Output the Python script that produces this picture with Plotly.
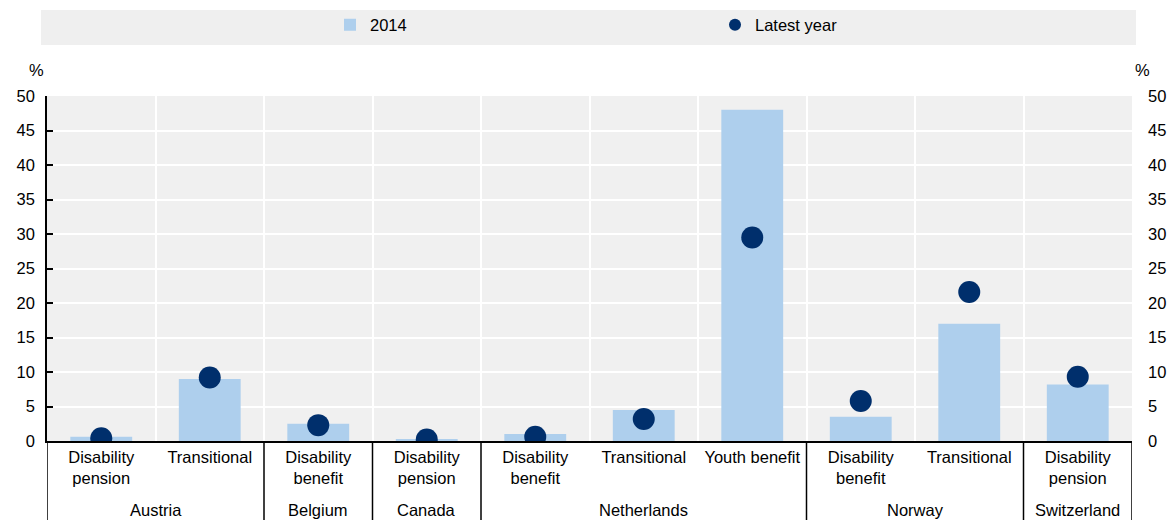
import plotly.graph_objects as go

countries = ["Austria", "Austria", "Belgium", "Canada", "Netherlands", "Netherlands",
             "Netherlands", "Norway", "Norway", "Switzerland"]
benefits = ["Disability<br>pension", "Transitional", "Disability<br>benefit", "Disability<br>pension",
            "Disability<br>benefit", "Transitional", "Youth benefit", "Disability<br>benefit",
            "Transitional", "Disability<br>pension"]
values_2014 = [0.6, 9.0, 2.5, 0.3, 1.0, 4.5, 48.0, 3.5, 17.0, 8.2]
values_latest = [0.4, 9.2, 2.3, 0.2, 0.6, 3.2, 29.5, 5.8, 21.6, 9.3]
y_ticks = [0, 5, 10, 15, 20, 25, 30, 35, 40, 45, 50]

idx = list(range(len(benefits)))
FONT = "Liberation Sans, Arial, sans-serif"
FS = 16.5

fig = go.Figure()
fig.add_trace(go.Bar(x=idx, y=values_2014, name="2014", marker_color="#AECFED",
                     marker_line_width=0, width=0.57))
fig.add_trace(go.Scatter(x=idx, y=values_latest, name="Latest year", mode="markers",
                         marker=dict(color="#002F6C", size=22)))
# invisible trace for right axis
fig.add_trace(go.Scatter(x=[idx[0]], y=[0], yaxis="y2", showlegend=False,
                         mode="markers", marker=dict(opacity=0), hoverinfo="skip"))

# groups
groups = []
for i, c in enumerate(countries):
    if not groups or groups[-1][0] != c:
        groups.append([c, i, i])
    else:
        groups[-1][2] = i

plot_h = 345.0
plot_w = 1085.0
shapes = []
# legend background
shapes.append(dict(type="rect", xref="paper", yref="paper", x0=-6 / plot_w, x1=1 + 4 / plot_w,
                   y0=1 + 51 / plot_h, y1=1 + 86 / plot_h, fillcolor="#EFEFEF",
                   line_width=0, layer="below"))
# dividers below axis
bounds = [-0.5] + [g[2] + 0.5 for g in groups]
for b in bounds:
    shapes.append(dict(type="line", xref="x", yref="paper", x0=b, x1=b, y0=0,
                       y1=-80 / plot_h, line=dict(color="black", width=1.5)))

annotations = []
for c, a, b in groups:
    annotations.append(dict(x=(a + b) / 2, y=-69 / plot_h, xref="x", yref="paper",
                            text=c, showarrow=False, yanchor="middle",
                            font=dict(size=FS, color="black", family=FONT)))
annotations.append(dict(x=-20 / plot_w, y=1 + 26 / plot_h, xref="paper", yref="paper", text="%",
                        showarrow=False, yanchor="middle",
                        font=dict(size=FS, color="black", family=FONT)))
annotations.append(dict(x=1 + 20 / plot_w, y=1 + 26 / plot_h, xref="paper", yref="paper", text="%",
                        showarrow=False, yanchor="middle",
                        font=dict(size=FS, color="black", family=FONT)))

fig.update_layout(
    width=1170, height=520,
    margin=dict(l=47, r=38, t=96, b=79, autoexpand=False),
    paper_bgcolor="white", plot_bgcolor="#F0F0F0",
    font=dict(family=FONT, size=FS, color="black"),
    showlegend=True,
    legend=dict(orientation="h", x=283 / plot_w, xanchor="left", y=1 + 71 / plot_h, yanchor="middle",
                bgcolor="rgba(0,0,0,0)", entrywidth=340, entrywidthmode="pixels",
                font=dict(size=FS, family=FONT), itemsizing="constant"),
    xaxis=dict(tickvals=idx, ticktext=benefits, range=[-0.5, len(idx) - 0.5],
               showgrid=False, zeroline=False, showline=True, linecolor="black", linewidth=1.5,
               ticks="", tickfont=dict(size=FS), automargin=False,
               minor=dict(tickvals=[i + 0.5 for i in idx[:-1]], showgrid=True,
                          gridcolor="white", gridwidth=1.5, ticks="")),
    yaxis=dict(range=[0, 50], tickvals=y_ticks, showgrid=True, gridcolor="white", gridwidth=1.5,
               zeroline=False, showline=True, linecolor="black", linewidth=1.5,
               ticks="inside", ticklen=6, tickcolor="black", tickwidth=1.5, automargin=False,
               ticklabelstandoff=7, tickfont=dict(size=FS)),
    yaxis2=dict(range=[0, 50], tickvals=y_ticks, overlaying="y", side="right", showgrid=False,
                zeroline=False, showline=False, ticks="", ticklabelstandoff=15, automargin=False,
                tickfont=dict(size=FS)),
    shapes=shapes,
    annotations=annotations,
)

fig.write_html("out.html",
               config={"displayModeBar": False},
               post_script="document.body.style.margin='0';"
                           "document.documentElement.style.overflow='hidden';")
